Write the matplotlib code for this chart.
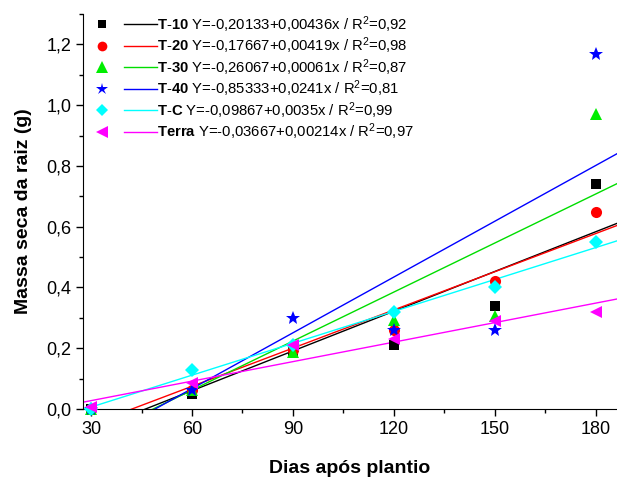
import matplotlib
matplotlib.use("Agg")
import matplotlib.pyplot as plt
import numpy as np
from matplotlib.lines import Line2D
from matplotlib.legend_handler import HandlerBase
from matplotlib.ticker import MultipleLocator, FuncFormatter

plt.rcParams['font.family'] = ['Liberation Sans', 'DejaVu Sans']
plt.rcParams['mathtext.fontset'] = 'custom'
plt.rcParams['mathtext.rm'] = 'Liberation Sans'
plt.rcParams['mathtext.bf'] = 'Liberation Sans:bold'
plt.rcParams['mathtext.it'] = 'Liberation Sans:italic'

# ---- data ----
days = [30, 60, 90, 120, 150, 180]
t10 = [0.0, 0.048, 0.19, 0.21, 0.34, 0.74]
t20 = [0.0, 0.062, 0.194, 0.259, 0.42, 0.649]
t30 = [0.0, 0.062, 0.188, 0.292, 0.306, 0.972]
t40 = [0.0, 0.062, 0.30, 0.259, 0.259, 1.169]
tc = [0.0, 0.13, 0.21, 0.319, 0.40, 0.549]
terra = [0.005, 0.084, 0.21, 0.229, 0.29, 0.318]

names = ["T-10", "T-20", "T-30", "T-40", "T-C", "Terra"]
series = [t10, t20, t30, t40, tc, terra]
# fitted lines (intercept, slope) as drawn
intercepts = [-0.20133, -0.17667, -0.26067, -0.30, -0.09867, -0.03667]
slopes = [0.00436, 0.00419, 0.00538, 0.00612, 0.0035, 0.00214]
equations = ["Y=-0,20133+0,00436x / R$^2$=0,92",
             "Y=-0,17667+0,00419x / R$^2$=0,98",
             "Y=-0,26067+0,00061x / R$^2$=0,87",
             "Y=-0,85333+0,0241x / R$^2$=0,81",
             "Y=-0,09867+0,0035x / R$^2$=0,99",
             "Y=-0,03667+0,00214x / R$^2$=0,97"]
bold_names = ["$\\mathbf{T}$-$\\mathbf{10}$", "$\\mathbf{T}$-$\\mathbf{20}$",
              "$\\mathbf{T}$-$\\mathbf{30}$", "$\\mathbf{T}$-$\\mathbf{40}$",
              "$\\mathbf{T}$-$\\mathbf{C}$", "$\\mathbf{Terra}$"]

marker_colors = ["black", "red", "#00ee00", "blue", "cyan", "magenta"]
line_colors = ["black", "red", "#00dd00", "blue", "cyan", "magenta"]
markers = ["s", "o", "^", "*", "D", "<"]
msizes = [7, 8, 9, 10, 7, 9]

fig = plt.figure(figsize=(6.17, 4.79), dpi=100)
ax = fig.add_axes([83/617, 1-409/479, 1-83/617, (409-14)/479])

xmin, xmax = 27.6, 186.3
xx = np.array([xmin, xmax])

handles = []
labels = []
for i in range(6):
    ax.plot(xx, intercepts[i] + slopes[i]*xx, color=line_colors[i], lw=1.0, zorder=2)
    ax.plot(days, series[i], linestyle='none', marker=markers[i], color=marker_colors[i],
            markersize=msizes[i], markeredgewidth=0, zorder=3, clip_on=False)
    mk = Line2D([], [], linestyle='none', marker=markers[i], color=marker_colors[i],
                markersize=msizes[i]-1, markeredgewidth=0)
    ln = Line2D([], [], color=line_colors[i], lw=1.0)
    handles.append((mk, ln))
    labels.append(bold_names[i] + " " + equations[i])


class OriginHandler(HandlerBase):
    def create_artists(self, legend, orig_handle, xdescent, ydescent, width, height,
                       fontsize, trans):
        mk, ln = orig_handle
        yc = -ydescent + height/2.0
        x0 = -xdescent
        m = Line2D([x0 + width*0.14], [yc], linestyle='none', marker=mk.get_marker(),
                   color=mk.get_color(), markersize=mk.get_markersize(), markeredgewidth=0,
                   transform=trans)
        l = Line2D([x0 + width*0.49, x0 + width], [yc, yc], color=ln.get_color(),
                   lw=ln.get_linewidth(), transform=trans)
        return [m, l]


leg = ax.legend(handles, labels, handler_map={tuple: OriginHandler()},
                loc='upper left', bbox_to_anchor=(0.019, 1.0), frameon=False,
                fontsize=10.7, handlelength=4.3, handletextpad=0.0, labelspacing=0.06,
                borderpad=0.0, borderaxespad=0.0)

ax.set_xlim(xmin, xmax)
ax.set_ylim(0, 1.3)
ax.xaxis.set_major_locator(MultipleLocator(30))
ax.xaxis.set_minor_locator(MultipleLocator(15))
ax.yaxis.set_major_locator(MultipleLocator(0.2))
ax.yaxis.set_minor_locator(MultipleLocator(0.1))
ax.yaxis.set_major_formatter(FuncFormatter(lambda v, p: f"{v:.1f}".replace('.', ',')))
ax.spines['top'].set_visible(False)
ax.spines['right'].set_visible(False)
ax.tick_params(which='major', direction='out', length=5, width=1, labelsize=13)
ax.tick_params(which='minor', direction='out', length=3, width=1)
ax.set_xlabel("Dias após plantio", fontsize=14, fontweight='bold', labelpad=16)
ax.set_ylabel("Massa seca da raiz (g)", fontsize=14, fontweight='bold', labelpad=10)

fig.savefig("out.png", dpi=100)
